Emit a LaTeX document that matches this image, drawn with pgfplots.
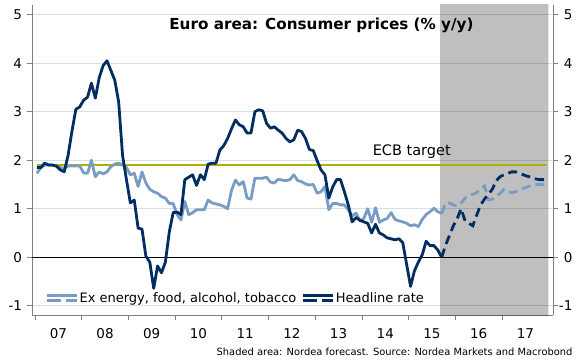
\documentclass[border=0pt]{standalone}
\usepackage{fontspec}
\setmainfont{DejaVu Sans}
\usepackage{pgfplots}
\usepackage{pgfplotstable}
\pgfplotsset{compat=1.18}

\definecolor{navy}{RGB}{0,45,98}
\definecolor{lightb}{RGB}{122,156,196}
\definecolor{olivec}{RGB}{176,176,0}
\definecolor{gridc}{RGB}{212,224,234}
\definecolor{axc}{RGB}{128,128,128}

% Headline HICP, Jan 2007 (x=0.5) ... Sep 2015
\pgfplotstableread{
x y
0.5 1.85
1.5 1.85
2.5 1.94
3.5 1.90
4.5 1.90
5.5 1.88
6.5 1.80
7.5 1.76
8.5 2.10
9.5 2.60
10.5 3.05
11.5 3.10
12.5 3.24
13.5 3.30
14.5 3.59
15.5 3.28
16.5 3.70
17.5 3.95
18.5 4.05
19.5 3.85
20.5 3.65
21.5 3.20
22.5 2.10
23.5 1.60
24.5 1.12
25.5 1.18
26.5 0.60
27.5 0.58
28.5 0.02
29.5 -0.10
30.5 -0.64
31.5 -0.18
32.5 -0.32
33.5 -0.10
34.5 0.52
35.5 0.92
36.5 0.93
37.5 0.88
38.5 1.60
39.5 1.65
40.5 1.70
41.5 1.48
42.5 1.70
43.5 1.60
44.5 1.92
45.5 1.94
46.5 1.94
47.5 2.21
48.5 2.30
49.5 2.45
50.5 2.65
51.5 2.83
52.5 2.73
53.5 2.69
54.5 2.56
55.5 2.56
56.5 3.00
57.5 3.04
58.5 3.02
59.5 2.76
60.5 2.66
61.5 2.69
62.5 2.62
63.5 2.56
64.5 2.45
65.5 2.38
66.5 2.42
67.5 2.62
68.5 2.59
69.5 2.45
70.5 2.22
71.5 2.20
72.5 1.99
73.5 1.80
74.5 1.70
75.5 1.22
76.5 1.45
77.5 1.60
78.5 1.60
79.5 1.35
80.5 1.08
81.5 0.73
82.5 0.82
83.5 0.76
84.5 0.73
85.5 0.70
86.5 0.50
87.5 0.68
88.5 0.50
89.5 0.46
90.5 0.40
91.5 0.38
92.5 0.36
93.5 0.38
94.5 0.30
95.5 -0.15
96.5 -0.60
97.5 -0.28
98.5 -0.10
99.5 0.05
100.5 0.33
101.5 0.24
102.5 0.24
103.5 0.15
104.5 0.00
}\headline

% Core (ex energy, food, alcohol, tobacco)
\pgfplotstableread{
x y
0.5 1.73
1.5 1.85
2.5 1.90
3.5 1.90
4.5 1.90
5.5 1.88
6.5 1.85
7.5 1.83
8.5 1.88
9.5 1.88
10.5 1.88
11.5 1.88
12.5 1.74
13.5 1.73
14.5 2.00
15.5 1.66
16.5 1.76
17.5 1.72
18.5 1.76
19.5 1.87
20.5 1.92
21.5 1.94
22.5 1.90
23.5 1.85
24.5 1.70
25.5 1.73
26.5 1.46
27.5 1.76
28.5 1.53
29.5 1.40
30.5 1.35
31.5 1.32
32.5 1.25
33.5 1.22
34.5 1.11
35.5 1.11
36.5 0.88
37.5 0.77
38.5 1.15
39.5 0.88
40.5 0.92
41.5 0.98
42.5 0.98
43.5 0.98
44.5 1.18
45.5 1.12
46.5 1.10
47.5 1.08
48.5 1.05
49.5 1.00
50.5 1.38
51.5 1.59
52.5 1.49
53.5 1.56
54.5 1.22
55.5 1.20
56.5 1.63
57.5 1.63
58.5 1.63
59.5 1.65
60.5 1.55
61.5 1.53
62.5 1.61
63.5 1.59
64.5 1.58
65.5 1.60
66.5 1.70
67.5 1.58
68.5 1.56
69.5 1.51
70.5 1.49
71.5 1.50
72.5 1.32
73.5 1.35
74.5 1.46
75.5 0.98
76.5 1.11
77.5 1.11
78.5 1.08
79.5 1.08
80.5 0.98
81.5 0.85
82.5 0.91
83.5 0.75
84.5 0.80
85.5 1.00
86.5 0.72
87.5 1.02
88.5 0.72
89.5 0.77
90.5 0.80
91.5 0.92
92.5 0.78
93.5 0.75
94.5 0.73
95.5 0.70
96.5 0.65
97.5 0.67
98.5 0.63
99.5 0.78
100.5 0.88
101.5 0.94
102.5 1.01
103.5 0.94
104.5 0.90
}\core

% Nordea forecasts, Sep 2015 ... Dec 2017
\pgfplotstableread{
x h c
104.5 0.00 0.90
105.5 0.25 1.12
106.5 0.45 1.12
107.5 0.65 1.08
108.5 0.80 1.05
109.5 1.00 1.12
110.5 0.75 1.22
111.5 0.70 1.28
112.5 0.65 1.30
113.5 0.87 1.33
114.5 1.08 1.42
115.5 1.20 1.47
116.5 1.30 1.18
117.5 1.40 1.20
118.5 1.58 1.25
119.5 1.66 1.32
120.5 1.70 1.40
121.5 1.73 1.37
122.5 1.76 1.33
123.5 1.76 1.35
124.5 1.73 1.38
125.5 1.70 1.42
126.5 1.67 1.45
127.5 1.65 1.48
128.5 1.62 1.50
129.5 1.60 1.50
130.5 1.60 1.50
131.5 1.60 1.50
}\fcst

\pgfplotsset{
  base/.style={
    scale only axis, width=521pt, height=310pt,
    xmin=-0.77, xmax=133.1, ymin=-1.19, ymax=5.2,
    axis line style={axc, line width=0.9pt},
    tick style={axc, line width=0.8pt},
    major tick length=4.5pt, tick align=outside,
    ytick={-1,0,...,5},
    tick label style={font=\fontsize{13.5}{15}\selectfont},
    /pgf/number format/assume math mode=true,
  }
}

\begin{document}
\begin{tikzpicture}
\path[use as bounding box] (-32pt,-47pt) rectangle (555pt,315pt);
\begin{axis}[base,
  axis x line*=bottom,
  yticklabel pos=left,
  yticklabel style={xshift=-2pt},
  xtick={0,12,...,120}, xticklabels={},
  extra x ticks={6,18,...,126},
  extra x tick labels={07,08,09,10,11,12,13,14,15,16,17},
  extra x tick style={major tick length=0pt, grid=none, xticklabel style={yshift=-10pt}},
  ymajorgrids, major grid style={gridc, line width=1pt},
  legend columns=2,
  legend style={at={(axis description cs:0.026,0.055)}, anchor=west,
    draw=none, fill=none, inner sep=0pt, outer sep=0pt,
    font=\fontsize{13}{15}\selectfont,
    nodes={inner xsep=1.5pt, inner ysep=1pt},
    /tikz/every even column/.append style={column sep=4pt}},
  legend cell align=left,
]
% forecast shading
\addplot[draw=none, fill=black, fill opacity=0.25, forget plot]
  coordinates {(104.1,-1.3) (104.1,5.3) (131.9,5.3) (131.9,-1.3) (104.1,-1.3)};
% zero line
\addplot[black, line width=0.9pt, forget plot] coordinates {(-1,0) (134,0)};
% ECB target
\addplot[olivec, line width=2.8pt, forget plot] coordinates {(0.5,1.9) (131.5,1.9)};
% series
\addplot[lightb, line width=2.8pt, line join=round, forget plot] table[x=x, y=y] {\core};
\addplot[lightb, line width=2.8pt, dash pattern=on 9pt off 5pt, forget plot] table[x=x, y=c] {\fcst};
\addplot[navy, line width=2.8pt, line join=round, forget plot] table[x=x, y=y] {\headline};
\addplot[navy, line width=2.8pt, dash pattern=on 9pt off 5pt, forget plot] table[x=x, y=h] {\fcst};

\addlegendimage{legend image code/.code={
  \draw[lightb, line width=2.5pt] (0pt,2.4pt) -- (30pt,2.4pt);
  \draw[lightb, line width=2.5pt] (0pt,-2.4pt) -- (14pt,-2.4pt);
  \draw[lightb, line width=2.5pt] (19pt,-2.4pt) -- (30pt,-2.4pt);}}
\addlegendentry{Ex energy, food, alcohol, tobacco}
\addlegendimage{legend image code/.code={
  \draw[navy, line width=2.5pt] (0pt,2.4pt) -- (30pt,2.4pt);
  \draw[navy, line width=2.5pt] (0pt,-2.4pt) -- (14pt,-2.4pt);
  \draw[navy, line width=2.5pt] (19pt,-2.4pt) -- (30pt,-2.4pt);}}
\addlegendentry{Headline rate}

\node[font=\bfseries\fontsize{15.2}{17}\selectfont] at (axis cs:73.6,4.79) {Euro area: Consumer prices (\% y/y)};
\node[font=\fontsize{14.5}{16}\selectfont] at (axis cs:96.8,2.17) {ECB target};
\end{axis}

\begin{axis}[base,
  axis x line=none, axis y line*=right,
  yticklabel pos=right,
  yticklabel style={anchor=west, text width=16pt, align=right, inner sep=0pt, xshift=-1.3pt},
]
\addplot[draw=none] coordinates {(0,0)};
\end{axis}

\node[anchor=east, font=\fontsize{9.9}{11}\selectfont] at (544pt,-36.7pt) {Shaded area: Nordea forecast. Source: Nordea Markets and Macrobond};
\end{tikzpicture}
\end{document}
